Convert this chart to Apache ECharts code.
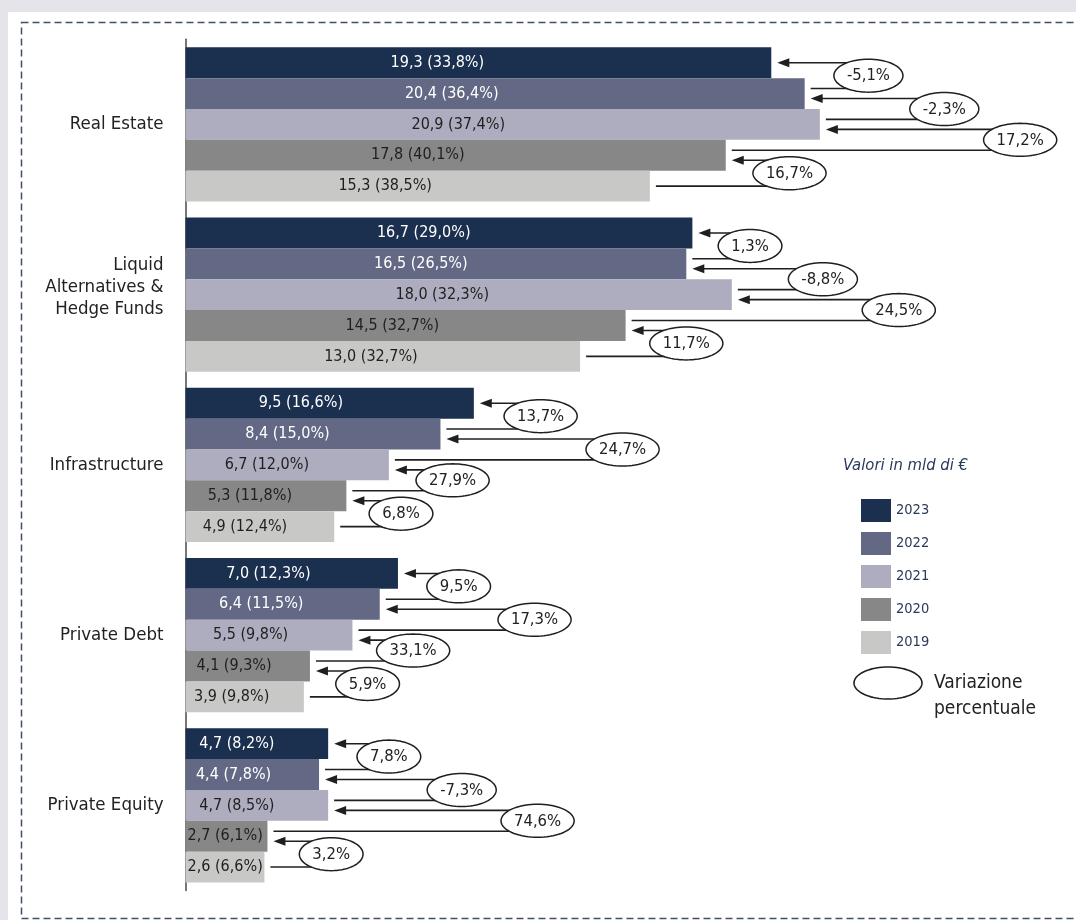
<!DOCTYPE html>
<html>
<head>
<meta charset="utf-8">
<script src="https://cdn.jsdelivr.net/npm/echarts@6/dist/echarts.min.js"></script>
<style>
  html, body { margin: 0; padding: 0; background: #e4e4ea; }
  #chart { width: 1076px; height: 920px; }
</style>
</head>
<body>
<div id="chart"></div>
<script>
// ---------------- DATA ----------------
const categories = ['Real Estate', 'Liquid\nAlternatives &\nHedge Funds', 'Infrastructure', 'Private Debt', 'Private Equity'];
const years = ['2023', '2022', '2021', '2020', '2019'];

// values (mld di €)
const v2023 = [19.3, 16.7, 9.5, 7.0, 4.7];
const v2022 = [20.4, 16.5, 8.4, 6.4, 4.4];
const v2021 = [20.9, 18.0, 6.7, 5.5, 4.7];
const v2020 = [17.8, 14.5, 5.3, 4.1, 2.7];
const v2019 = [15.3, 13.0, 4.9, 3.9, 2.6];

// share of total (%)
const s2023 = [33.8, 29.0, 16.6, 12.3, 8.2];
const s2022 = [36.4, 26.5, 15.0, 11.5, 7.8];
const s2021 = [37.4, 32.3, 12.0, 9.8, 8.5];
const s2020 = [40.1, 32.7, 11.8, 9.3, 6.1];
const s2019 = [38.5, 32.7, 12.4, 9.8, 6.6];

// percentage change vs previous year
const chg2023 = [-5.1, 1.3, 13.7, 9.5, 7.8];
const chg2022 = [-2.3, -8.8, 24.7, 17.3, -7.3];
const chg2021 = [17.2, 24.5, 27.9, 33.1, 74.6];
const chg2020 = [16.7, 11.7, 6.8, 5.9, 3.2];

// where each change bubble sits along the value axis (mld di €)
const tagAt2023 = [22.5, 18.6, 11.7, 9.0, 6.7];
const tagAt2022 = [25.0, 21.0, 14.4, 11.5, 9.1];
const tagAt2021 = [27.5, 23.5, 8.8, 7.5, 11.6];
const tagAt2020 = [19.9, 16.5, 7.1, 6.0, 4.8];

// ---------------- BUILD ----------------
const values = [v2023, v2022, v2021, v2020, v2019];
const shares = [s2023, s2022, s2021, s2020, s2019];
const changes = [chg2023, chg2022, chg2021, chg2020];
const tagAt = [tagAt2023, tagAt2022, tagAt2021, tagAt2020];

const colors = ['#1b2f4f', '#636985', '#adadbf', '#878787', '#c8c8c6'];
const labelColors = ['#ffffff', '#ffffff', '#1f1f1f', '#1f1f1f', '#1f1f1f'];
const FONT = "'Liberation Sans Narrow', 'Arial Narrow', 'DejaVu Sans Condensed', sans-serif";
const BAR_FRAC = 0.1812;
const labelFrac = [0.43, 0.47, 0.40, 0.39, 0.36];
const TAG_FS = 16.5;

const fmt = v => v.toFixed(1).replace('.', ',');

const measureCtx = document.createElement('canvas').getContext('2d');
function textWidth(t, size) {
  measureCtx.font = size + 'px ' + FONT;
  return measureCtx.measureText(t).width;
}
function ellipsePts(cx, cy, rx, ry) {
  const pts = [];
  for (let i = 0; i < 72; i++) {
    const a = i / 72 * Math.PI * 2;
    pts.push([cx + rx * Math.cos(a), cy + ry * Math.sin(a)]);
  }
  return pts;
}

const barSeries = years.map((y, j) => ({
  name: y,
  type: 'bar',
  barWidth: (BAR_FRAC * 100) + '%',
  barGap: '0%',
  itemStyle: { color: colors[j] },
  data: values[j].map((v, c) => {
    const small = (c === 4 && j >= 3);
    return {
      value: v,
      label: small
        ? { position: 'insideLeft', distance: 2, align: 'left' }
        : { position: [(labelFrac[c] * 100) + '%', '50%'], align: 'center', verticalAlign: 'middle' }
    };
  }),
  label: {
    show: true,
    color: labelColors[j],
    fontFamily: FONT,
    fontSize: 16,
    formatter: p => fmt(p.value) + ' (' + fmt(shares[j][p.dataIndex]) + '%)'
  },
  silent: true,
  z: 2
}));

const tagData = [];
for (let j = 0; j < 4; j++) {
  for (let c = 0; c < 5; c++) {
    tagData.push([tagAt[j][c], c, j, changes[j][c]]);
  }
}

function renderTag(params, api) {
  const pos = api.value(0), cat = api.value(1), j = api.value(2), chg = api.value(3);
  const center = api.coord([0, cat]);
  const band = Math.abs(api.size([0, 1])[1]);
  const bw = band * BAR_FRAC;
  const cA = center[1] + (j - 2) * bw;       // centre of the newer bar
  const cB = cA + bw;                         // centre of the older bar
  const yA = j === 0 ? cA : cA + 5;           // arrow row
  const yL = j + 1 === 4 ? cB : cB - 5;       // origin line row
  const ey = (yA + yL) / 2;
  const xA = api.coord([values[j][cat], cat])[0] + 6;
  const xB = api.coord([values[j + 1][cat], cat])[0] + 6;
  const ex = api.coord([pos, cat])[0];
  const txt = fmt(chg) + '%';
  const tw = textWidth(txt, TAG_FS);
  const rx = Math.max(tw + 26, 62) / 2;
  const ry = 16.5;
  const stroke = '#1f1f1f';
  return {
    type: 'group',
    children: [
      { type: 'line', shape: { x1: xA + 11, y1: yA, x2: ex, y2: yA }, style: { stroke, lineWidth: 1.6 } },
      { type: 'polygon', shape: { points: [[xA, yA], [xA + 12, yA - 4.5], [xA + 12, yA + 4.5]] }, style: { fill: stroke } },
      { type: 'line', shape: { x1: xB, y1: yL, x2: ex, y2: yL }, style: { stroke, lineWidth: 1.6 } },
      { type: 'polygon', shape: { points: ellipsePts(ex, ey, rx, ry) }, style: { fill: '#ffffff', stroke, lineWidth: 1.5 } },
      { type: 'text', style: { text: txt, x: ex, y: ey + 0.5, align: 'center', verticalAlign: 'middle', fontFamily: FONT, fontSize: TAG_FS, fill: '#222222' } }
    ]
  };
}

const chart = echarts.init(document.getElementById('chart'), null, { renderer: 'canvas' });
chart.setOption({
  backgroundColor: '#e4e4ea',
  animation: false,
  grid: { left: 185.5, right: 10.3, top: 39.3, bottom: 29.5, containLabel: false },
  xAxis: {
    type: 'value', min: 0, max: 29,
    axisLine: { show: false }, axisTick: { show: false }, axisLabel: { show: false }, splitLine: { show: false }
  },
  yAxis: {
    type: 'category',
    data: categories,
    inverse: true,
    axisLine: { show: true, lineStyle: { color: '#555555', width: 1.6 } },
    axisTick: { show: false },
    axisLabel: {
      fontFamily: FONT, fontSize: 18.5, color: '#222222', margin: 22, lineHeight: 22, align: 'right',
      formatter: v => (v.indexOf('\n') >= 0 ? v + '\n{s| }' : v),
      rich: { s: { lineHeight: 15, fontSize: 10 } }
    }
  },
  legend: {
    data: years,
    orient: 'vertical',
    left: 861, top: 499,
    padding: 0,
    itemWidth: 30, itemHeight: 23, itemGap: 10,
    icon: 'rect',
    selectedMode: false,
    textStyle: { fontFamily: FONT, fontSize: 14.5, color: '#2b3a5b' }
  },
  graphic: [
    { type: 'rect', z: -10, silent: true, shape: { x: 8, y: 12, width: 1200, height: 1000 }, style: { fill: '#ffffff' } },
    { type: 'rect', z: -9, silent: true, shape: { x: 21.5, y: 22.5, width: 1200, height: 896 }, style: { fill: 'none', stroke: '#3f506c', lineWidth: 1.5, lineDash: [7, 4] } },
    { type: 'text', silent: true, style: { text: 'Valori in mld di €', x: 843, y: 466, verticalAlign: 'middle', fontFamily: FONT, fontStyle: 'italic', fontSize: 16.5, fill: '#2b3a5b' } },
    { type: 'polygon', silent: true, shape: { points: ellipsePts(888, 683, 34, 16) }, style: { fill: '#ffffff', stroke: '#1f1f1f', lineWidth: 1.6 } },
    { type: 'text', silent: true, style: { text: 'Variazione\npercentuale', x: 934, y: 696, verticalAlign: 'middle', lineHeight: 26, fontFamily: FONT, fontSize: 19, fill: '#222222' } }
  ],
  series: barSeries.concat([{
    type: 'custom',
    name: 'Variazione percentuale',
    coordinateSystem: 'cartesian2d',
    renderItem: renderTag,
    encode: { x: 0, y: 1 },
    data: tagData,
    clip: false,
    silent: true,
    z: 5
  }])
});
</script>
</body>
</html>
